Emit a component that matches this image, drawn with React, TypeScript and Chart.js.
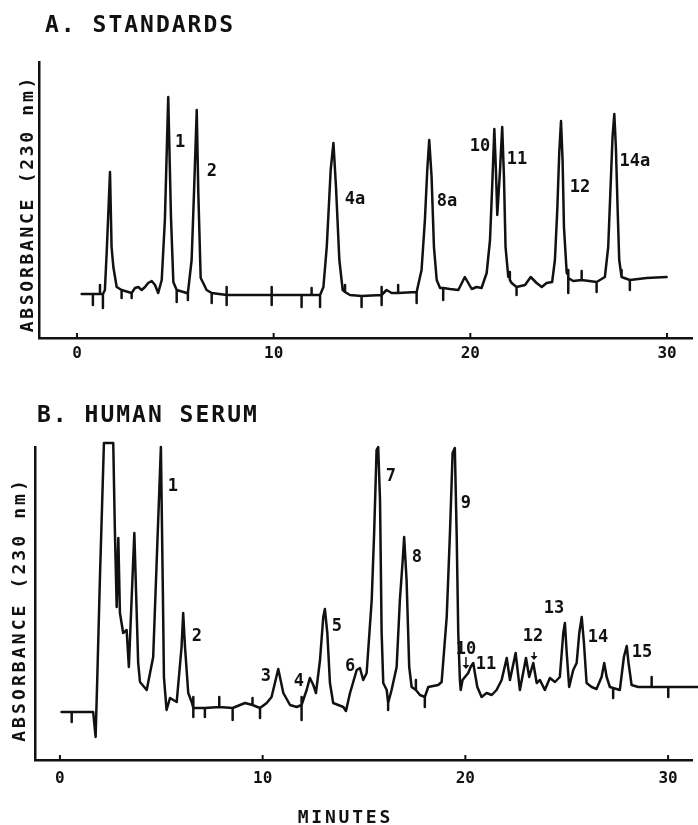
import { useEffect, useRef } from "react";
import { Chart, registerables } from "chart.js";

Chart.register(...registerables);

// ---------- DATA ----------
const xTickValues = [0, 10, 20, 30];
const xTickLabels = ["0", "10", "20", "30"];

// Panel A: standards chromatogram, [minutes, absorbance (arbitrary units)]
const standardsTrace: [number, number][] = [
  [0.24, 44], [0.81, 44], [0.81, 33], [0.81, 44], [1.17, 44], [1.17, 53], [1.17, 44], [1.32, 44], [1.32, 30], [1.32, 44],
  [1.42, 48], [1.51, 85], [1.68, 166], [1.76, 91], [1.85, 71], [2.02, 51], [2.27, 48], [2.27, 40], [2.27, 48],
  [2.78, 45], [2.78, 40], [2.78, 45], [2.95, 50], [3.12, 51], [3.29, 48], [3.46, 51], [3.62, 55], [3.8, 57], [3.97, 53], [4.13, 45],
  [4.31, 58], [4.47, 118], [4.64, 241], [4.78, 121], [4.9, 56], [5.07, 48], [5.07, 36], [5.07, 48], [5.58, 45], [5.64, 45], [5.64, 38], [5.64, 45],
  [5.83, 78], [5.95, 145], [6.09, 228], [6.17, 145], [6.29, 60], [6.42, 55], [6.59, 48], [6.85, 45], [6.85, 35], [6.85, 45],
  [7.61, 43], [7.61, 51], [7.61, 33], [7.61, 43], [9.9, 43], [9.9, 51], [9.9, 33], [9.9, 43],
  [11.42, 43], [11.42, 31], [11.42, 43], [11.93, 43], [11.93, 50], [11.93, 43], [12.36, 43], [12.36, 31], [12.36, 43],
  [12.53, 51], [12.7, 91], [12.9, 168], [13.04, 195], [13.17, 151], [13.34, 78], [13.51, 48], [13.63, 46], [13.63, 53], [13.63, 46], [13.88, 43],
  [14.47, 42], [14.47, 31], [14.47, 42], [15.49, 43], [15.49, 51], [15.49, 33], [15.49, 43], [15.74, 48], [16.0, 45],
  [16.33, 45], [16.33, 53], [16.33, 45], [17.27, 46], [17.27, 35], [17.27, 46],
  [17.52, 68], [17.69, 118], [17.81, 168], [17.91, 198], [18.03, 161], [18.15, 91], [18.29, 58], [18.46, 50],
  [18.62, 50], [18.62, 38], [18.62, 50], [18.96, 49], [19.39, 48], [19.72, 61], [20.07, 49], [20.32, 51], [20.57, 50],
  [20.83, 65], [21.0, 98], [21.13, 161], [21.22, 209], [21.3, 168], [21.37, 123], [21.51, 168], [21.62, 211], [21.71, 161], [21.79, 91], [21.93, 61],
  [22.01, 61], [22.01, 66], [22.01, 58], [22.1, 55], [22.35, 51], [22.35, 43], [22.35, 51], [22.78, 53], [23.07, 61], [23.37, 55], [23.63, 51], [23.88, 55], [24.16, 56],
  [24.3, 78], [24.42, 128], [24.52, 185], [24.61, 217], [24.69, 178], [24.76, 111], [24.9, 65],
  [24.98, 63], [24.98, 68], [24.98, 45], [24.98, 60], [25.23, 57], [25.66, 58], [25.66, 67], [25.66, 58], [26.42, 56], [26.42, 46], [26.42, 56], [26.84, 61],
  [27.01, 91], [27.13, 151], [27.23, 201], [27.32, 224], [27.4, 191], [27.49, 128], [27.57, 78], [27.69, 61], [27.69, 68], [27.69, 61],
  [28.11, 58], [28.11, 48], [28.11, 58], [28.96, 60], [29.98, 61],
];

const standardsPeakNames = ["1", "2", "4a", "8a", "10", "11", "12", "14a"];
const standardsPeakTime = [5.24, 6.86, 14.13, 18.81, 20.49, 22.37, 25.57, 28.37];
const standardsPeakAbs = [195, 166, 138, 136, 191, 178, 150, 176];

// Panel B: human serum chromatogram, [minutes, absorbance (arbitrary units)]
const serumTrace: [number, number][] = [
  [0.08, 48], [0.58, 48], [0.58, 38], [0.58, 48], [1.64, 48], [1.76, 23], [1.84, 80], [1.97, 180], [2.17, 317], [2.63, 317],
  [2.71, 230], [2.8, 153], [2.88, 222], [2.96, 147], [3.12, 127], [3.29, 130], [3.4, 93], [3.67, 227], [3.86, 97], [3.95, 78], [4.28, 70],
  [4.6, 103], [4.77, 197], [4.98, 313], [5.07, 180], [5.13, 83], [5.26, 50], [5.43, 62], [5.76, 58],
  [6.0, 113], [6.08, 147], [6.17, 113], [6.33, 67], [6.5, 58],
  [6.58, 52], [6.58, 63], [6.58, 43], [6.58, 52], [7.15, 52], [7.15, 43], [7.15, 52], [7.86, 53], [7.86, 63], [7.86, 53],
  [8.52, 52], [8.52, 40], [8.52, 52], [9.13, 57], [9.5, 55], [9.5, 62], [9.5, 55], [9.87, 52], [9.87, 42], [9.87, 52], [10.2, 57], [10.44, 63],
  [10.77, 91], [11.02, 67], [11.35, 55], [11.68, 53], [11.92, 55], [11.92, 63], [11.92, 40], [11.92, 55],
  [12.17, 70], [12.33, 82], [12.5, 75], [12.63, 67], [12.83, 100], [12.99, 143], [13.07, 151], [13.19, 127], [13.32, 77], [13.48, 57],
  [13.73, 55], [13.98, 53], [14.11, 49], [14.31, 67], [14.64, 90], [14.8, 92], [14.96, 80], [15.13, 87],
  [15.38, 160], [15.5, 227], [15.62, 310], [15.7, 313], [15.79, 260], [15.87, 127], [15.95, 77], [16.12, 70], [16.19, 57], [16.19, 50], [16.19, 57],
  [16.36, 70], [16.61, 93], [16.77, 160], [16.91, 200], [16.98, 223], [17.1, 180], [17.23, 93], [17.35, 73],
  [17.56, 70], [17.56, 80], [17.56, 70], [17.76, 65], [18.0, 63], [18.0, 53], [18.0, 63], [18.17, 73], [18.41, 74], [18.66, 75], [18.83, 78],
  [19.08, 143], [19.24, 227], [19.37, 307], [19.48, 312], [19.57, 227], [19.65, 127], [19.73, 80], [19.77, 70], [19.86, 80],
  [19.98, 83], [20.14, 87], [20.26, 93], [20.39, 97], [20.47, 87], [20.59, 73], [20.8, 63], [21.05, 67], [21.3, 65], [21.54, 70], [21.79, 80],
  [22.04, 102], [22.2, 80], [22.48, 107], [22.69, 70], [22.99, 102], [23.15, 83], [23.35, 97], [23.52, 77], [23.68, 80], [23.92, 70],
  [24.17, 82], [24.42, 78], [24.66, 83], [24.83, 127], [24.91, 137], [25.0, 107], [25.12, 73], [25.32, 90], [25.49, 97],
  [25.62, 127], [25.74, 143], [25.85, 117], [25.98, 77], [26.23, 73], [26.47, 71], [26.72, 83], [26.85, 97], [26.97, 83], [27.13, 73],
  [27.29, 72], [27.29, 62], [27.29, 72], [27.62, 70], [27.82, 103], [27.96, 114], [28.05, 97], [28.2, 75], [28.53, 73],
  [29.19, 73], [29.19, 83], [29.19, 73], [30.01, 73], [30.01, 63], [30.01, 73], [31.49, 73],
];

const serumPeakNames = ["1", "2", "3", "4", "5", "6", "7", "8", "9", "10", "11", "12", "13", "14", "15"];
const serumPeakTime = [5.57, 6.76, 10.16, 11.79, 13.66, 14.31, 16.33, 17.61, 20.03, 20.03, 21.02, 23.34, 24.37, 26.54, 28.71];
const serumPeakAbs = [273, 123, 83, 78, 133, 93, 283, 202, 256, 110, 95, 123, 151, 122, 107];

const serumArrowTime = [20.03, 23.39];
const serumArrowFrom = [103, 108];
const serumArrowTo = [91, 100];

// ---------- STYLE / LAYOUT ----------
const INK = "#111111";
const MONO = "'DejaVu Sans Mono', 'Liberation Mono', monospace";

type Panel = {
  title: string;
  yLabel: string;
  trace: [number, number][];
  names: string[];
  times: number[];
  abs: number[];
  arrows?: { t: number[]; from: number[]; to: number[] };
  height: number;
  padTop: number;
  yWidth: number;
  xHeight: number;
  xMin: number;
  xMax: number;
  yMax: number;
  tickPad: number;
  titleX: number;
  titleBase: number;
  yLabelX: number;
  yLabelY: number;
  yLabelSpacing: number;
  xTitle?: string;
  xTitleX?: number;
  xTitleBase?: number;
};

const panelA: Panel = {
  title: "A. STANDARDS",
  yLabel: "ABSORBANCE (230 nm)",
  trace: standardsTrace,
  names: standardsPeakNames,
  times: standardsPeakTime,
  abs: standardsPeakAbs,
  height: 380,
  padTop: 62,
  yWidth: 39,
  xHeight: 42,
  xMin: -1.93,
  xMax: 31.27,
  yMax: 276,
  tickPad: 6.4,
  titleX: 45,
  titleBase: 32,
  yLabelX: 26.5,
  yLabelY: 205,
  yLabelSpacing: 2.7,
};

const panelB: Panel = {
  title: "B. HUMAN SERUM",
  yLabel: "ABSORBANCE (230 nm)",
  trace: serumTrace,
  names: serumPeakNames,
  times: serumPeakTime,
  abs: serumPeakAbs,
  arrows: { t: serumArrowTime, from: serumArrowFrom, to: serumArrowTo },
  height: 445,
  padTop: 67,
  yWidth: 35,
  xHeight: 65,
  xMin: -1.23,
  xMax: 31.18,
  yMax: 313,
  tickPad: 9.4,
  titleX: 37,
  titleBase: 42,
  yLabelX: 18.5,
  yLabelY: 231,
  yLabelSpacing: 3.1,
  xTitle: "MINUTES",
  xTitleX: 344,
  xTitleBase: 443,
};

function decorPlugin(p: Panel) {
  return {
    id: "decor",
    afterDraw(chart: any) {
      const { ctx, chartArea } = chart;
      const x = chart.scales.x;
      const y = chart.scales.y;
      ctx.save();
      ctx.fillStyle = INK;
      ctx.strokeStyle = INK;
      // small inward tick marks on x axis
      ctx.lineWidth = 2;
      for (const v of xTickValues) {
        const px = x.getPixelForValue(v);
        ctx.beginPath();
        ctx.moveTo(px, chartArea.bottom);
        ctx.lineTo(px, chartArea.bottom - 5);
        ctx.stroke();
      }
      // panel title
      ctx.font = `bold 23px ${MONO}`;
      ctx.letterSpacing = "2px";
      ctx.textAlign = "left";
      ctx.textBaseline = "alphabetic";
      ctx.fillText(p.title, p.titleX, p.titleBase);
      // y-axis label
      ctx.save();
      ctx.font = `bold 18px ${MONO}`;
      ctx.letterSpacing = `${p.yLabelSpacing}px`;
      ctx.translate(p.yLabelX, p.yLabelY);
      ctx.rotate(-Math.PI / 2);
      ctx.textAlign = "center";
      ctx.fillText(p.yLabel, p.yLabelSpacing / 2, 6.5);
      ctx.restore();
      // x-axis title
      if (p.xTitle) {
        ctx.font = `bold 18px ${MONO}`;
        ctx.letterSpacing = "2.8px";
        ctx.textAlign = "center";
        ctx.fillText(p.xTitle, (p.xTitleX as number) + 1.4, p.xTitleBase as number);
      }
      // peak labels
      ctx.font = `bold 17px ${MONO}`;
      ctx.letterSpacing = "0px";
      ctx.textAlign = "center";
      ctx.textBaseline = "middle";
      p.names.forEach((n, i) => {
        ctx.fillText(n, x.getPixelForValue(p.times[i]), y.getPixelForValue(p.abs[i]));
      });
      // arrows
      if (p.arrows) {
        ctx.lineWidth = 1.5;
        p.arrows.t.forEach((t, i) => {
          const px = x.getPixelForValue(t);
          const y0 = y.getPixelForValue(p.arrows!.from[i]);
          const y1 = y.getPixelForValue(p.arrows!.to[i]);
          ctx.beginPath();
          ctx.moveTo(px, y0);
          ctx.lineTo(px, y1 - 3);
          ctx.stroke();
          ctx.beginPath();
          ctx.moveTo(px - 3.5, y1 - 4);
          ctx.lineTo(px + 3.5, y1 - 4);
          ctx.lineTo(px, y1);
          ctx.closePath();
          ctx.fill();
        });
      }
      ctx.restore();
    },
  };
}

function buildConfig(p: Panel): any {
  return {
    type: "line",
    data: {
      datasets: [
        {
          data: p.trace.map(([t, v]) => ({ x: t, y: v })),
          borderColor: INK,
          borderWidth: 2.5,
          pointRadius: 0,
          tension: 0,
          fill: false,
          clip: 10,
          borderJoinStyle: "round",
          borderCapStyle: "round",
        },
      ],
    },
    options: {
      animation: false,
      responsive: false,
      maintainAspectRatio: false,
      events: [],
      layout: { padding: { top: p.padTop, right: 6, left: 0, bottom: 0 } },
      plugins: { legend: { display: false }, tooltip: { enabled: false }, title: { display: false } },
      scales: {
        x: {
          type: "linear",
          min: p.xMin,
          max: p.xMax,
          afterFit: (s: any) => {
            s.height = p.xHeight;
          },
          afterBuildTicks: (s: any) => {
            s.ticks = xTickValues.map((v) => ({ value: v }));
          },
          ticks: {
            autoSkip: false,
            maxRotation: 0,
            padding: p.tickPad,
            color: INK,
            font: { family: MONO, size: 16, weight: "bold" },
            callback: (v: number) => {
              const i = xTickValues.indexOf(v);
              return i >= 0 ? xTickLabels[i] : "";
            },
          },
          grid: { display: false, drawTicks: false },
          border: { display: true, color: INK, width: 2.5 },
        },
        y: {
          type: "linear",
          min: 0,
          max: p.yMax,
          afterFit: (s: any) => {
            s.width = p.yWidth;
          },
          ticks: { display: false },
          grid: { display: false, drawTicks: false },
          border: { display: true, color: INK, width: 2.5 },
        },
      },
    },
    plugins: [decorPlugin(p)],
  };
}

export default function App() {
  const topRef = useRef<HTMLCanvasElement>(null);
  const botRef = useRef<HTMLCanvasElement>(null);

  useEffect(() => {
    const a = new Chart(topRef.current as HTMLCanvasElement, buildConfig(panelA));
    const b = new Chart(botRef.current as HTMLCanvasElement, buildConfig(panelB));
    return () => {
      a.destroy();
      b.destroy();
    };
  }, []);

  return (
    <div style={{ position: "absolute", left: 0, top: 0, width: 698, height: 825, background: "#ffffff" }}>
      <canvas ref={topRef} width={698} height={380} style={{ position: "absolute", left: 0, top: 0, width: 698, height: 380 }} />
      <canvas ref={botRef} width={698} height={445} style={{ position: "absolute", left: 0, top: 380, width: 698, height: 445 }} />
    </div>
  );
}
